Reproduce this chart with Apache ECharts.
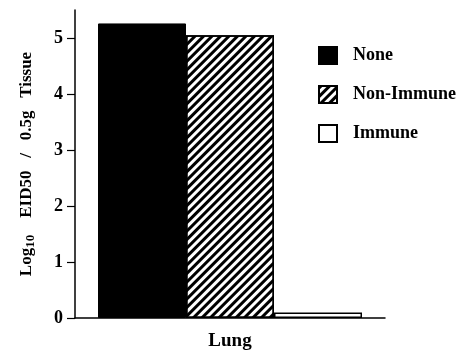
<!DOCTYPE html>
<html>
<head>
<meta charset="utf-8">
<script src="https://cdn.jsdelivr.net/npm/echarts@6/dist/echarts.min.js"></script>
<style>html,body{margin:0;padding:0;background:#fff}#c{width:475px;height:356px}</style>
</head>
<body>
<div id="c"></div>
<script>
const categories = ['Lung'];
const seriesNames = ['None', 'Non-Immune', 'Immune'];
const noneValues = [5.26];
const nonImmuneValues = [5.05];
const immuneValues = [0.1];
const yTicks = [0, 1, 2, 3, 4, 5];

const FONT = '"Liberation Serif", "DejaVu Serif", serif';
const chart = echarts.init(document.getElementById('c'), null, {renderer: 'canvas'});
chart.setOption({
  animation: false,
  backgroundColor: '#fff',
  grid: {left: 75, right: 90, top: 10, bottom: 38},
  legend: {
    left: 313, top: 41, orient: 'vertical',
    icon: 'rect',
    itemWidth: 18, itemHeight: 17, itemGap: 20,
    textStyle: {fontFamily: FONT, fontWeight: 'bold', fontSize: 18, color: '#000', padding: [0, 0, 0, 11]},
    data: seriesNames
  },
  xAxis: {
    type: 'category', data: categories,
    axisLine: {lineStyle: {color: '#000', width: 1.5}},
    axisTick: {show: false},
    axisLabel: {fontFamily: FONT, fontWeight: 'bold', fontSize: 19, color: '#000', margin: 14}
  },
  yAxis: {
    type: 'value', min: 0, max: 5.5, interval: 1,
    splitLine: {show: false},
    axisLine: {show: true, lineStyle: {color: '#000', width: 1.5}},
    axisTick: {show: true, length: 8, customValues: yTicks, lineStyle: {color: '#000', width: 1.2}},
    axisLabel: {fontFamily: FONT, fontWeight: 'bold', fontSize: 18, color: '#000', margin: 12, customValues: yTicks},
    name: '{b|Log}{s|10}{b|    EID50   /   0.5g   Tissue}',
    nameLocation: 'middle', nameRotate: 90, nameGap: 38,
    nameTextStyle: {
      rich: {
        b: {fontFamily: FONT, fontWeight: 'bold', fontSize: 17, color: '#000'},
        s: {fontFamily: FONT, fontWeight: 'bold', fontSize: 13, color: '#000', padding: [8, 0, 0, 0]}
      }
    }
  },
  series: [
    {
      name: seriesNames[0], type: 'bar', data: noneValues, barWidth: 88, barGap: '0%',
      itemStyle: {color: '#000', borderColor: '#000', borderWidth: 1}
    },
    {
      name: seriesNames[1], type: 'bar', data: nonImmuneValues, barWidth: 88, barGap: '0%',
      itemStyle: {
        color: '#fff', borderColor: '#000', borderWidth: 1.5,
        decal: {symbol: 'rect', color: '#000', dashArrayX: [1, 0], dashArrayY: [3, 3], rotation: -Math.PI / 4, symbolSize: 1}
      }
    },
    {
      name: seriesNames[2], type: 'bar', data: immuneValues, barWidth: 88, barGap: '0%',
      itemStyle: {color: '#fff', borderColor: '#000', borderWidth: 1.5}
    }
  ]
});
</script>
</body>
</html>
